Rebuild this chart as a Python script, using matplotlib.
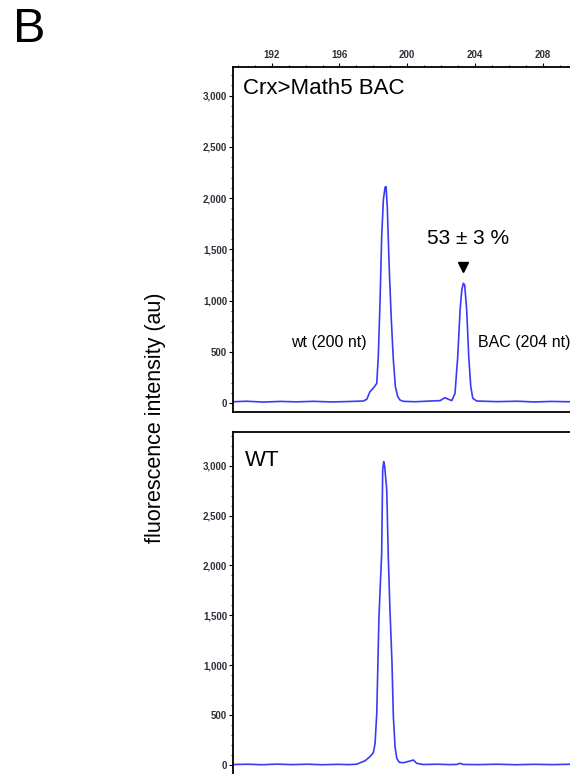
import matplotlib
matplotlib.use("Agg")
import matplotlib.pyplot as plt
from matplotlib.ticker import MultipleLocator, FuncFormatter

plt.rcParams['font.family'] = ['Liberation Sans', 'DejaVu Sans']

# Capillary electrophoresis traces: fragment size (nt) vs fluorescence (au)
bac_size = [189.73, 190.5, 191.5, 192.5, 193.5, 194.5, 195.5, 196.5, 197.41, 197.61,
            197.80, 198.04, 198.20, 198.29, 198.39, 198.49, 198.59, 198.69, 198.75,
            198.82, 198.94, 199.06, 199.18, 199.30, 199.44, 199.57, 199.77, 200.5,
            201.34, 201.94, 202.23, 202.43, 202.63, 202.82, 202.98, 203.12, 203.22,
            203.31, 203.39, 203.51, 203.63, 203.75, 203.87, 204.10, 205.28, 206.5,
            207.5, 208.5, 209.5, 210.5, 211.38]
bac_signal = [15, 20, 12, 18, 14, 19, 13, 17, 22, 39,
              113, 156, 195, 455, 975, 1625, 1983, 2107, 2113,
              1918, 1300, 812, 422, 162, 64, 32, 19, 15,
              22, 26, 55, 39, 26, 97, 455, 910, 1105,
              1170, 1154, 910, 455, 162, 49, 22, 16, 20,
              13, 18, 15, 19, 15]

wt_size = [189.73, 190.6, 191.4, 192.3, 193.2, 194.1, 195.0, 195.9, 196.5, 197.02,
           197.51, 197.80, 198.00, 198.10, 198.20, 198.33, 198.49, 198.55, 198.61,
           198.67, 198.79, 198.88, 198.98, 199.10, 199.18, 199.28, 199.38, 199.53,
           199.77, 200.16, 200.36, 200.56, 200.95, 201.8, 202.5, 202.92, 203.12,
           203.31, 204.2, 205.3, 206.4, 207.5, 208.6, 209.7, 211.38]
wt_signal = [5, 8, 3, 9, 4, 8, 3, 7, 4, 8,
             43, 84, 124, 217, 518, 1487, 2122, 2957, 3040,
             2990, 2756, 2088, 1554, 1019, 484, 183, 67, 27,
             23, 40, 50, 17, 5, 8, 4, 6, 17,
             6, 4, 8, 3, 7, 4, 8, 5]

panel_titles = ["Crx>Math5 BAC", "WT"]
size_ticks = [192, 196, 200, 204, 208]
signal_ticks = [0, 500, 1000, 1500, 2000, 2500, 3000]

W, H = 570, 774
fig = plt.figure(figsize=(W / 100, H / 100), dpi=100)


def frac_box(left, top, right, bottom):
    return [left / W, 1 - bottom / H, (right - left) / W, (bottom - top) / H]


line_color = '#3a3af4'
tick_color = '#2e2e38'


def style_axes(ax, ylim, show_top):
    ax.set_xlim(189.73, 211.38)
    ax.set_ylim(*ylim)
    for side in ['left', 'top', 'bottom', 'right']:
        ax.spines[side].set_linewidth(1.3)
        ax.spines[side].set_color('black')
    ax.set_yticks(signal_ticks)
    ax.yaxis.set_minor_locator(MultipleLocator(100))
    ax.yaxis.set_major_formatter(FuncFormatter(lambda v, p: f"{int(v):,}"))
    ax.tick_params(axis='y', which='major', direction='out', length=3, width=0.8,
                   labelsize=7, labelcolor=tick_color, pad=1.5)
    ax.tick_params(axis='y', which='minor', direction='out', length=1.5, width=0.6)
    for lbl in ax.get_yticklabels():
        lbl.set_fontweight('bold')
    ax.set_xticks(size_ticks)
    ax.xaxis.set_minor_locator(MultipleLocator(1))
    if show_top:
        ax.xaxis.tick_top()
        ax.tick_params(axis='x', which='major', direction='out', length=3, width=0.8,
                       labelsize=7, labelcolor=tick_color, pad=2)
        ax.tick_params(axis='x', which='minor', direction='out', length=1.5, width=0.6)
        for lbl in ax.get_xticklabels():
            lbl.set_fontweight('bold')
    else:
        ax.tick_params(axis='x', which='both', bottom=False, top=False,
                       labelbottom=False, labeltop=False)


# Upper panel: BAC transgenic sample
ax1 = fig.add_axes(frac_box(233.3, 66.7, 600, 412.3))
style_axes(ax1, (-88, 3283), True)
ax1.plot(bac_size, bac_signal, color=line_color, lw=1.2)
ax1.text(0.027, 0.9375, panel_titles[0], transform=ax1.transAxes, fontsize=16,
         ha='left', va='center')
ax1.text(197.61, 588, "wt (200 nt)", fontsize=11.5, ha='right', va='center')
ax1.text(204.18, 588, "BAC (204 nt)", fontsize=11.5, ha='left', va='center')
ax1.text(203.59, 1612, "53 ± 3 %", fontsize=15, ha='center', va='center')
ax1.plot([203.29], [1332], marker='v', color='black', ms=7, linestyle='none')

# Lower panel: wild-type sample
ax2 = fig.add_axes(frac_box(233.3, 431.7, 600, 775))
style_axes(ax2, (-100, 3341), False)
ax2.plot(wt_size, wt_signal, color=line_color, lw=1.2)
ax2.text(0.032, 0.9155, panel_titles[1], transform=ax2.transAxes, fontsize=16,
         ha='left', va='center')

fig.text(156 / W, 1 - 418 / H, "fluorescence intensity (au)", rotation=90,
         fontsize=15.5, ha='center', va='center')
fig.text(13 / W, 1 - 29 / H, "B", fontsize=35, ha='left', va='center')

fig.savefig("out.png", dpi=100)
